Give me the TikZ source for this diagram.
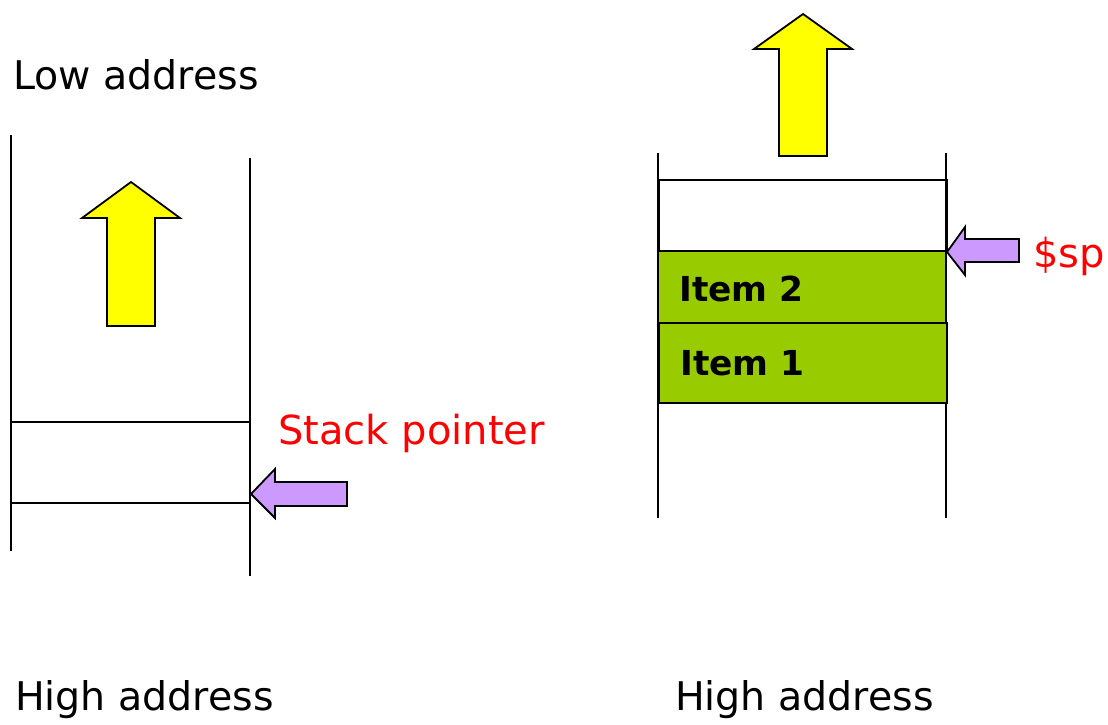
\documentclass[tikz,border=0pt]{standalone}
\usepackage{fontspec}
\setmainfont{DejaVu Sans}
\definecolor{arrowyellow}{HTML}{FFFF00}
\definecolor{arrowpurple}{HTML}{CC99FF}
\definecolor{itemgreen}{HTML}{99CC00}
\definecolor{labelred}{HTML}{FF0000}
\begin{document}
\begin{tikzpicture}[x=1pt,y=-1pt,
  wall/.style={draw=black,line width=1.8pt},
  cell/.style={draw=black,line width=1.8pt},
  bigarrow/.style={draw=black,line width=1.8pt,fill=arrowyellow,line join=miter},
  ptrarrow/.style={draw=black,line width=1.8pt,fill=arrowpurple,line join=miter},
  plain/.style={font=\fontsize{39.5}{42}\selectfont,anchor=west,inner sep=0pt},
  redlabel/.style={font=\fontsize{40}{42}\selectfont,text=labelred,anchor=west,inner sep=0pt},
  itemlabel/.style={font=\fontsize{34.4}{36}\selectfont\bfseries,anchor=west,inner sep=0pt}]
\useasboundingbox (0,0) rectangle (1108,724);
% ---------- left stack ----------
\node[plain] (low) at (13,75) {Low address};
\node[plain] (high1) at (15,700) {High address};
\draw[wall] (11,135) -- (11,551);
\draw[wall] (250,158) -- (250,576);
\draw[cell] (11,422) -- (250,422);
\draw[cell] (11,503) -- (250,503);
\draw[bigarrow] (131,182) -- (180,218) -- (155,218) -- (155,326) -- (107,326) -- (107,218) -- (82,218) -- cycle;
\draw[ptrarrow] (251,494) -- (275,469) -- (275,482) -- (347,482) -- (347,506) -- (275,506) -- (275,518) -- cycle;
\node[redlabel] (sp1) at (278,433) {Stack pointer};
% ---------- right stack ----------
\node[plain] (high2) at (675,700) {High address};
\draw[wall] (658,153) -- (658,518);
\draw[wall] (946,153) -- (946,518);
\draw[cell] (659,180) rectangle (947,253);
\draw[cell,fill=itemgreen] (658,251) rectangle (946,323);
\draw[cell,fill=itemgreen] (659,323) rectangle (947,403);
\node[itemlabel] (item2) at (679,289) {Item 2};
\node[itemlabel] (item1) at (680,363) {Item 1};
\draw[bigarrow] (803,14) -- (852,49) -- (827,49) -- (827,156) -- (779,156) -- (779,49) -- (754,49) -- cycle;
\draw[ptrarrow] (947,252) -- (965,227) -- (965,239) -- (1019,239) -- (1019,262) -- (965,262) -- (965,275) -- cycle;
\node[redlabel] (sp2) at (1033,256) {\$sp};
\end{tikzpicture}
\end{document}
